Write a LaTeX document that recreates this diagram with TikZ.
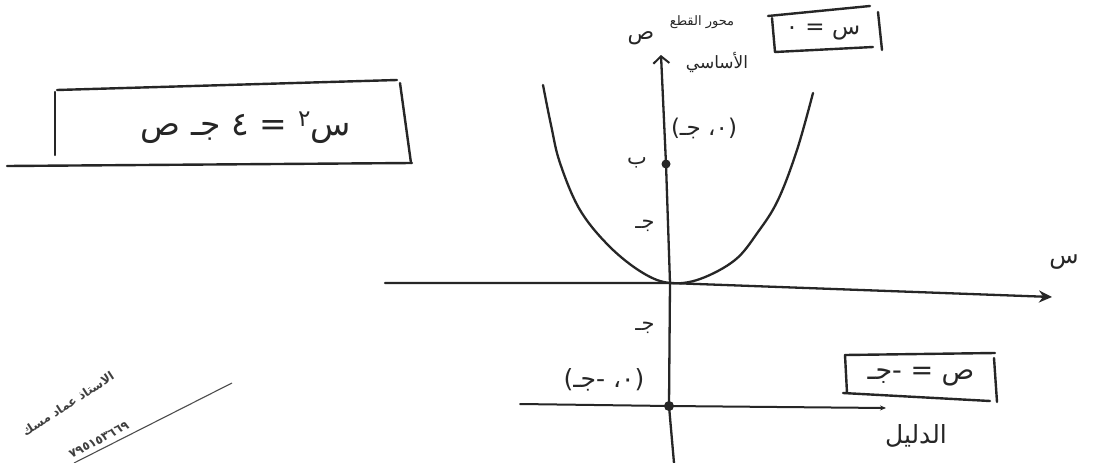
\documentclass[tikz,border=0pt]{standalone}
\usepackage{fontspec}
\TeXXeTstate=1
\newfontfamily\arabicfont[Script=Arabic]{DejaVu Sans}
\usetikzlibrary{arrows.meta}
\begin{document}
\begin{tikzpicture}[x=1pt,y=-1pt,
  ink/.style={line width=2.3pt, draw=black!85, line cap=round, line join=round},
  boxline/.style={line width=2.4pt, draw=black!85, line cap=round},
  ar/.style={font=\arabicfont, text=black!85, inner sep=0pt},
  dot/.style={circle, fill=black!85, inner sep=0pt, minimum size=#1},
  wm/.style={font=\arabicfont\bfseries\fontsize{12}{14}\selectfont, text=black!75, inner sep=0pt}
]
\useasboundingbox[fill=white] (0,0) rectangle (1095,463);

% ---- points on axes ----
\coordinate (O) at (670,283);
\coordinate (xl) at (385,283);
\coordinate (xr) at (1052,297);
\coordinate (yb) at (674,463);
\coordinate (yt) at (661,55);
\node[dot=9pt] (F) at (666,164) {};
\node[dot=10pt] (D) at (669,406) {};
\coordinate (dl) at (520,404);
\coordinate (dr) at (886,408);

% ---- axes ----
\draw[ink,-{Stealth[length=13pt,width=12pt]}] (xl) -- (O) -- (xr);
\draw[ink,-{Straight Barb[length=7pt,width=16pt,line width=2pt]}] (yb) -- (D.center) -- (O) -- (F.center) -- (yt);
\draw[ink,line width=2pt,-{Stealth[length=6pt,width=5pt]}] (dl) -- (D.center) -- (dr);

% ---- parabola ----
\draw[ink] plot[smooth,tension=0.6] coordinates {(543,85) (551,125) (560,163) (580,210) (610,247) (643,273) (670,283) (700,279) (735,260) (758,232) (778,200) (797,150) (813,93)};

% ---- main equation box ----
\node[ar,font=\arabicfont\fontsize{33}{38}\selectfont] (eq) at (246,128) {\beginR س\textsuperscript{٢} = ٤ جـ ص\endR};
\draw[boxline] (57,90) -- (397,80);
\draw[boxline] (55,92) -- (55,155);
\draw[boxline] (400,83) -- (411,163);
\draw[boxline] (7,166) -- (412,163);

% ---- axis box ----
\node[ar,font=\arabicfont\fontsize{23}{27}\selectfont] (ax) at (823,32) {\beginR س = ٠\endR};
\draw[boxline] (768,16) -- (870,6);
\draw[boxline] (772,18) -- (775,52);
\draw[boxline] (775,52) -- (873,47);
\draw[boxline] (878,12) -- (882,50);

% ---- directrix box ----
\node[ar,font=\arabicfont\fontsize{27}{31}\selectfont] (dq) at (921,377) {\beginR ص = -جـ\endR};
\draw[boxline] (845,355) -- (995,353);
\draw[boxline] (845,355) -- (847,393);
\draw[boxline] (843,393) -- (990,401);
\draw[boxline] (994,358) -- (997,402);

% ---- labels ----
\node[ar,font=\arabicfont\fontsize{22}{26}\selectfont] (ylab) at (641,38) {ص};
\node[ar,font=\arabicfont\fontsize{13}{15}\selectfont] (axl1) at (702,22) {\beginR محور القطع\endR};
\node[ar,font=\arabicfont\fontsize{17}{20}\selectfont] (axl2) at (717,62) {الأساسي};
\node[ar,font=\arabicfont\fontsize{24}{28}\selectfont] (xlab) at (1064,262) {س};
\node[ar,font=\arabicfont\fontsize{23}{27}\selectfont] (Fc) at (704,128) {\beginR (٠، جـ)\endR};
\node[ar,font=\arabicfont\fontsize{21}{25}\selectfont] (Fl) at (637,163) {ب};
\node[ar,font=\arabicfont\fontsize{21}{25}\selectfont] (c1) at (645,226) {جـ};
\node[ar,font=\arabicfont\fontsize{21}{25}\selectfont] (c2) at (645,328) {جـ};
\node[ar,font=\arabicfont\fontsize{25}{29}\selectfont] (Dc) at (604,380) {\beginR (٠، -جـ)\endR};
\node[ar,font=\arabicfont\fontsize{25}{29}\selectfont] (dlab) at (916,436) {الدليل};

% ---- watermark ----
\node[wm,rotate=33] (wm1) at (68,404) {\beginR الاستاذ عماد مسك\endR};
\node[wm,rotate=28] (wm2) at (99,440) {٧٩٥١٥٣٦٦٩};
\coordinate (wa) at (74,463);
\coordinate (wb) at (232,383);
\draw[line width=1.1pt, draw=black!70] (wa) -- (wb);
\end{tikzpicture}
\end{document}
